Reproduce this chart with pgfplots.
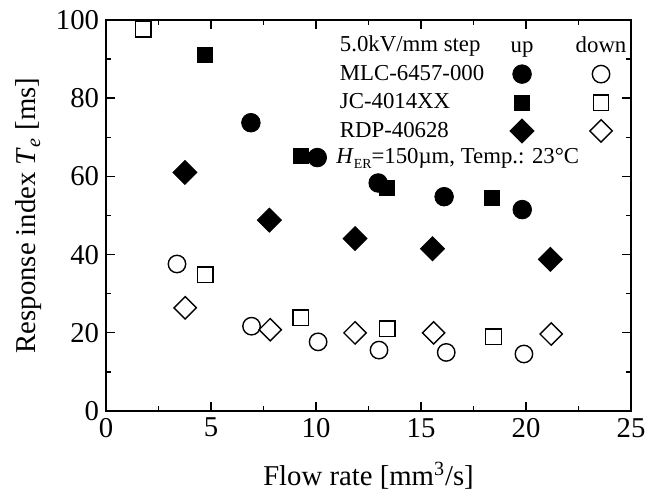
\documentclass[border=0pt]{standalone}
\usepackage{fontspec}
\setmainfont{Liberation Serif}
\usepackage{pgfplots}
\pgfplotsset{compat=1.18}

% marker styles: filled = up, open = down
\pgfplotsset{
  upc/.style={only marks, mark=*, mark size=4.7pt, mark options={solid, draw=black, fill=black}},
  dnc/.style={only marks, mark=o, mark size=4.4pt, mark options={solid, draw=black, line width=0.7pt}},
  ups/.style={only marks, mark=square*, mark size=3.8pt, mark options={solid, draw=black, fill=black}},
  dns/.style={only marks, mark=square, mark size=3.9pt, mark options={solid, draw=black, line width=0.7pt}},
  upd/.style={only marks, mark=square*, mark size=4.3pt, mark options={solid, draw=black, fill=black, rotate=45}},
  dnd/.style={only marks, mark=square, mark size=4.0pt, mark options={solid, draw=black, line width=0.7pt, rotate=45}},
}

\begin{document}
\begin{tikzpicture}
\begin{axis}[
  scale only axis,
  width=265pt, height=197.5pt,
  xmin=0, xmax=25, ymin=0, ymax=100,
  xtick distance=5, ytick distance=20,
  minor tick num=1,
  tick align=inside, tick pos=both,
  major tick length=4.5pt, minor tick length=2.5pt,
  axis line style={line width=0.8pt},
  every tick/.style={black, line width=0.6pt},
  /pgf/number format/assume math mode=true,
  ticklabel style={font=\fontsize{14.5}{16}\selectfont},
  xlabel={Flow rate [mm\textsuperscript{3}/s]},
  ylabel={Response index \textit{T}\textsubscript{\textit{e}} [ms]},
  every axis x label/.style={at={(axis description cs:0.5,-0.165)}, anchor=center,
    font=\fontsize{14.5}{17}\selectfont},
  every axis y label/.style={at={(axis description cs:-0.147,0.5)}, anchor=center, rotate=90,
    font=\fontsize{14.5}{17}\selectfont},
  legend plot pos=right,
  legend columns=2,
  legend cell align=left,
  legend style={draw=none, fill=none, at={(0.426,0.98)}, anchor=north west,
    font=\fontsize{11.5}{13}\selectfont, row sep=1.2pt,
    /tikz/column 1/.style={column sep=11pt},
    /tikz/column 2/.style={column sep=17pt}},
]

\addlegendimage{legend image code/.code={\node[inner sep=0pt, anchor=base] at (0.3cm,-0.75ex) {up};}}
\addlegendentry{5.0kV/mm step}
\addlegendimage{legend image code/.code={\node[inner sep=0pt, anchor=base] at (0.3cm,-0.75ex) {down};}}
\addlegendentry{}

% MLC-6457-000
\addplot[upc] coordinates {
  (6.90,73.7) (10.06,64.8) (12.96,58.3) (16.10,54.8) (19.82,51.5)
};
\addlegendentry{MLC-6457-000}
\addplot[dnc] coordinates {
  (3.38,37.6) (6.93,21.7) (10.10,17.7) (13.00,15.6) (16.20,15.0) (19.90,14.6)
};
\addlegendentry{}

% JC-4014XX
\addplot[ups] coordinates {
  (4.73,91.0) (9.28,65.3) (13.37,57.0) (18.36,54.5)
};
\addlegendentry{JC-4014XX}
\addplot[dns] coordinates {
  (1.77,97.6) (4.73,34.9) (9.27,23.9) (13.40,21.1) (18.45,19.0)
};
\addlegendentry{}

% RDP-40628
\addplot[upd] coordinates {
  (3.76,61.0) (7.78,48.8) (11.86,44.1) (15.55,41.5) (21.16,38.8)
};
\addlegendentry{RDP-40628}
\addplot[dnd] coordinates {
  (3.77,26.4) (7.82,20.8) (11.86,20.0) (15.60,20.0) (21.20,19.7)
};
\addlegendentry{}

\node[anchor=base west, inner sep=0pt, font=\fontsize{11.5}{13}\selectfont]
  at (rel axis cs:0.438,0.632)
  {\textit{H}\raisebox{-0.45ex}{\fontsize{7}{8}\selectfont ER}=150µm, Temp.: 23°C};

\end{axis}
% page margins as in the reference
\path ([xshift=-53.5pt,yshift=10pt]current axis.north west);
\path ([xshift=4pt,yshift=-41pt]current axis.south east);
\end{tikzpicture}
\end{document}
